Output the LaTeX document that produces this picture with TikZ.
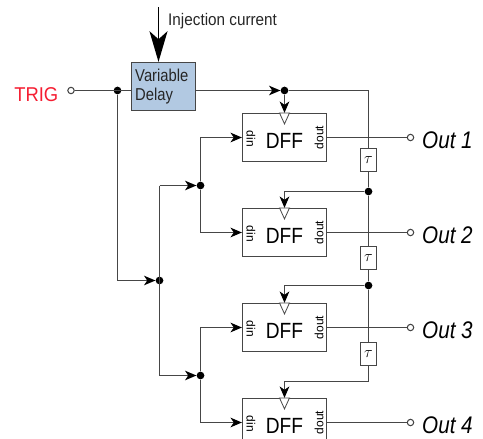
\documentclass[tikz,border=0pt]{standalone}
\usepackage{fontspec}
\setmainfont{Liberation Sans}
\usetikzlibrary{arrows.meta,calc}
\definecolor{wire}{RGB}{70,70,70}
\definecolor{dbox}{RGB}{178,201,226}
\definecolor{trigred}{RGB}{245,30,50}
\tikzset{
  x=0.75pt,y=-0.75pt,
  wire/.style={draw=wire,line width=0.9pt},
  feed/.style={wire,-{Stealth[length=8.5pt,width=7.2pt,inset=2.4pt,color=black]}},
  dot/.style={circle,fill=black,inner sep=0pt,minimum size=5.8pt},
  port/.style={circle,draw=wire,fill=white,line width=0.8pt,inner sep=0pt,minimum size=4.8pt},
  dffbox/.style={draw=wire,fill=white,line width=0.9pt,minimum width=63pt,minimum height=36pt,inner sep=0pt},
  taubox/.style={draw=wire,fill=white,line width=0.9pt,minimum width=12pt,minimum height=17.25pt,inner sep=0pt,font=\fontsize{13}{14}\selectfont},
  delaybox/.style={draw=wire,fill=dbox,line width=0.9pt,minimum width=48pt,minimum height=36pt,inner sep=0pt},
  vdlab/.style={anchor=west,inner sep=0pt,font=\fontsize{12.9}{14}\selectfont,text=black!85,xscale=0.86},
  dfflab/.style={font=\fontsize{16.5}{18}\selectfont,text=black,xscale=0.87,inner sep=0pt},
  pinlab/.style={font=\fontsize{9}{10}\selectfont,text=black,inner sep=0pt},
  outlab/.style={font=\itshape\fontsize{18}{20}\selectfont,anchor=west,inner sep=0pt,xscale=0.86},
  clk/.style={draw=wire,line width=0.6pt,fill=white}
}
\begin{document}
\begin{tikzpicture}
\useasboundingbox (0,0) rectangle (483,439);
\clip (0,0) rectangle (483,439);
\node[delaybox] (vd) at (163.5,86.5) {};
\node[vdlab] at (135,75) {Variable};
\node[vdlab] at (135,96) {Delay};
\node[port] (trig) at (71,90.5) {};
\node[anchor=east,inner sep=0pt,text=trigred,font=\fontsize{15}{16}\selectfont,xscale=0.92] at (58.5,94.5) {TRIG};
\coordinate (inj) at (158.5,7);
\node[anchor=west,inner sep=0pt,font=\fontsize{12.6}{14}\selectfont,text=black!85,xscale=0.91] at (168,21) {Injection current};
\node[dot] (j0) at (117.5,90.5) {};
\node[dot] (jt) at (284.5,90.5) {};
\coordinate (tc) at (368.5,90.5);
\node[dot] (jm) at (159.5,280.5) {};
\node[dot] (ju) at (200.5,185.5) {};
\node[dot] (jl) at (200.5,375.5) {};
\coordinate (c0) at (117.5,280.5);
\coordinate (cu) at (159.5,185.5);
\coordinate (cl) at (159.5,375.5);
\foreach \n/\y in {1/137.5,2/232.5,3/327.5,4/422.5}{
  \node[dffbox] (d\n) at (284.5,\y) {};
  \node[port] (o\n) at (410.5,\y) {};
  \draw[wire] (d\n.east) -- (o\n.west);
  \node[outlab] at (422,\y+3) {Out \n};
}
\node[taubox] (t1) at (368.5,160) {$\tau$};
\node[taubox] (t2) at (368.5,258) {$\tau$};
\node[taubox] (t3) at (368.5,354) {$\tau$};
\node[dot] (j2) at (368.5,191.5) {};
\node[dot] (j3) at (368.5,285.5) {};
\coordinate (b3) at (368.5,381.5);
\draw[wire] (trig.east) -- (vd.west |- trig);
\draw[wire] (j0) -- (c0);
\draw[feed] (c0) -- (jm.west);
\draw[feed] (vd.east |- jt) -- (jt.west);
\draw[wire] (jt) -- (tc) -- (t1.north);
\draw[wire] (t1.south) -- (j2) -- (t2.north);
\draw[wire] (t2.south) -- (j3) -- (t3.north);
\draw[wire] (t3.south) -- (b3);
\draw[feed] (jt) -- (d1.north);
\draw[feed] (j2) -| (d2.north);
\draw[feed] (j3) -| (d3.north);
\draw[feed] (b3) -| (d4.north);
\draw[wire] (cu) -- (cl);
\draw[feed] (cu) -- (ju.west);
\draw[feed] (cl) -- (jl.west);
\draw[feed] (ju) |- (d1.west);
\draw[feed] (ju) |- (d2.west);
\draw[feed] (jl) |- (d3.west);
\draw[feed] (jl) |- (d4.west);
\draw[draw=black,line width=1.3pt,-{Stealth[length=23pt,width=13.5pt,inset=6pt]}] (inj) -- (vd.north -| inj);
\foreach \n in {1,2,3,4}{
  \draw[clk] ($(d\n.north)+(-5,0)$) -- ($(d\n.north)+(5,0)$) -- ($(d\n.north)+(0,11)$) -- cycle;
  \node[dfflab] at ($(d\n.center)+(0,3)$) {DFF};
  \node[pinlab,rotate=-90] at ($(d\n.west)+(9,1.5)$) {din};
  \node[pinlab,rotate=90] at ($(d\n.east)+(-8,0)$) {dout};
}
\end{tikzpicture}
\end{document}
